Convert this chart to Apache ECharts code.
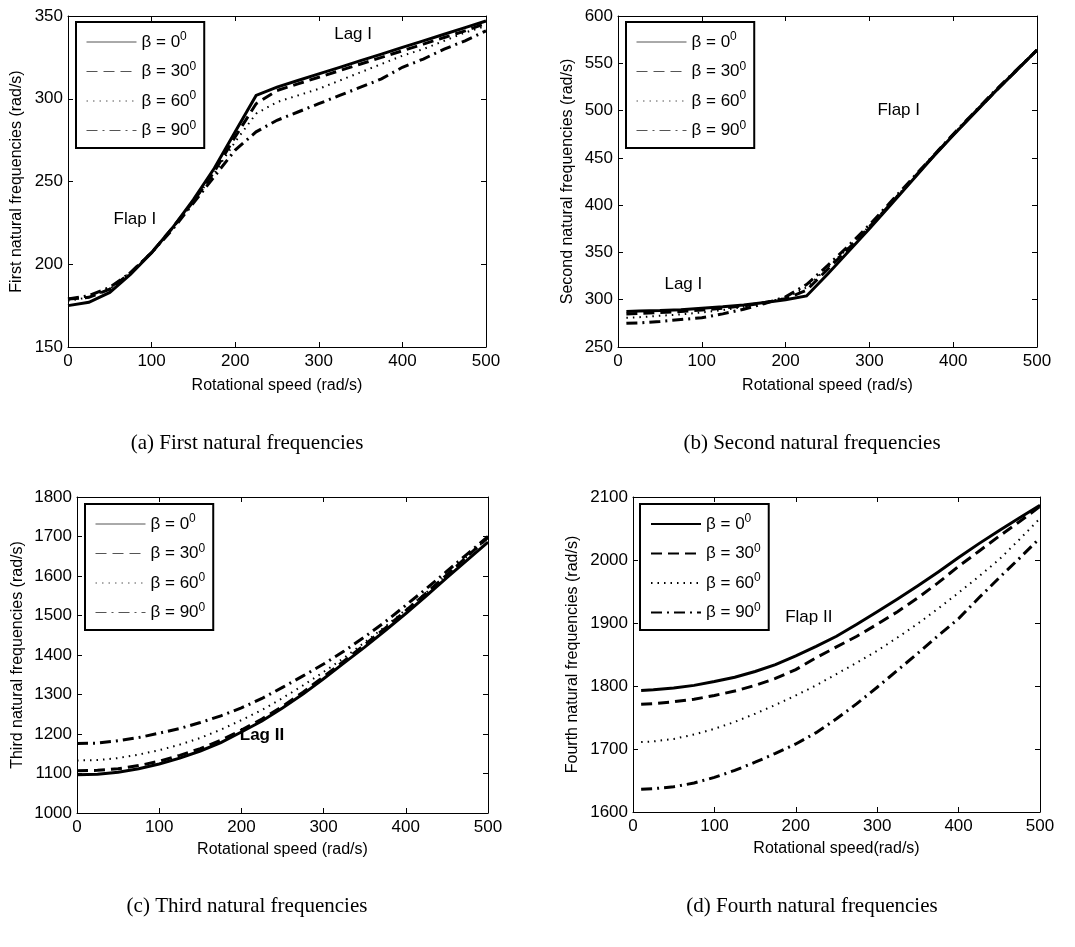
<!DOCTYPE html>
<html><head><meta charset="utf-8">
<script src="https://cdn.jsdelivr.net/npm/echarts@6/dist/echarts.min.js"></script>
<style>html,body{margin:0;padding:0;background:#fff}#c{width:1075px;height:947px}</style>
</head><body><div id="c"></div>
<script>
// ---------------- data ----------------
const speedA = [0,25,50,75,100,125,150,175,200,225,250,275,300,325,350,375,400,425,450,475,500];
const speedB = [10,25,50,75,100,125,150,175,200,225,250,275,300,325,350,375,400,425,450,475,500];

const first0  = [175,177,183,194,207,222,239,258,280,302,307,311,315,319,323,327,331,335,339,343,347];
const first30 = [179,180,185,195,207,222,238,256,277,297,305,309,313,317,321,325,329,333,337,341,345.5];
const first60 = [178,180,185,195,207,222,238,255,274,291,298,302,306,311,316,321,326,330,335,340,344];
const first90 = [179,181,186,195,207,221,237,253,269,280,287,292,297,302,307,312,319,324,330,335,341];

const second0  = [287.5,288,288.5,289.5,291,292.5,294.5,297,300,304,327,351,375,400,425,450,474,497,520,542,564];
const second30 = [285,285.5,286.5,287.5,289,291,293.5,297,301,310,332,354,377,401,426,450.5,474.5,497.5,520,542,564];
const second60 = [281,281.5,283,284.5,286.5,289,292.5,297,302,313,334,355,378,402,426,451,475,498,520.5,542,564];
const second90 = [275,275.5,277,279,281,285,290,296,303,316,336,357,379,403,427,451,475,498,521,542.5,564];

const third0  = [1097,1098,1103,1112,1124,1139,1157,1178,1205,1233,1266,1301,1340,1380,1420,1462,1505,1550,1596,1641,1686];
const third30 = [1107,1108,1112,1120,1131,1146,1163,1184,1210,1238,1270,1306,1345,1385,1426,1468,1512,1557,1603,1650,1698];
const third60 = [1133,1134,1139,1148,1159,1173,1190,1211,1235,1261,1291,1323,1357,1393,1432,1472,1515,1558,1603,1650,1696];
const third90 = [1176,1177,1183,1191,1202,1214,1229,1246,1266,1290,1318,1347,1377,1410,1446,1484,1526,1568,1612,1656,1700];

const fourth0  = [1793,1794,1797,1801,1807,1814,1823,1834,1848,1863,1879,1898,1918,1938,1959,1981,2004,2026,2047,2067,2087];
const fourth30 = [1771,1772,1775,1779,1785,1792,1801,1812,1826,1845,1862,1879,1898,1918,1940,1964,1990,2014,2038,2061,2085];
const fourth60 = [1711,1712,1716,1723,1732,1743,1756,1770,1785,1801,1819,1837,1856,1877,1899,1923,1948,1974,2001,2033,2066];
const fourth90 = [1636,1637,1640,1646,1655,1666,1679,1693,1708,1726,1748,1772,1798,1825,1852,1880,1907,1940,1972,2003,2035];

const angles = ['0','30','60','90'];
const xTicks = [0,100,200,300,400,500];
const yTicksA = [150,200,250,300,350];
const yTicksB = [250,300,350,400,450,500,550,600];
const yTicksC = [1000,1100,1200,1300,1400,1500,1600,1700,1800];
const yTicksD = [1600,1700,1800,1900,2000,2100];

const yNames = ['First natural frequencies (rad/s)','Second natural frequencies (rad/s)','Third natural frequencies (rad/s)','Fourth natural frequencies (rad/s)'];
const xNames = ['Rotational speed (rad/s)','Rotational speed (rad/s)','Rotational speed (rad/s)','Rotational speed(rad/s)'];
const captions = ['(a) First natural frequencies','(b) Second natural frequencies','(c) Third natural frequencies','(d) Fourth natural frequencies'];
const notes = [
  [{text:'Lag I', x:341, y:339, bold:false},{text:'Flap I', x:80, y:227, bold:false}],
  [{text:'Flap I', x:335, y:500, bold:false},{text:'Lag I', x:78, y:316, bold:false}],
  [{text:'Lag II', x:225, y:1197, bold:true}],
  [{text:'Flap II', x:216, y:1909, bold:false}]
];

// ---------------- layout / style ----------------
const SANS = 'Liberation Sans';
const panels = [
  {key:'a', xs:speedA, ys:[first0,first30,first60,first90], yt:yTicksA, grid:{left:68,top:16,width:418,height:331}, legend:{left:76,top:22}, nameGapY:43, nameGapX:31, thickLegend:false},
  {key:'b', xs:speedB, ys:[second0,second30,second60,second90], yt:yTicksB, grid:{left:618,top:16,width:419,height:331}, legend:{left:626,top:22}, nameGapY:42, nameGapX:31, thickLegend:false},
  {key:'c', xs:speedA, ys:[third0,third30,third60,third90], yt:yTicksC, grid:{left:77,top:497,width:411,height:316}, legend:{left:85,top:504}, nameGapY:51, nameGapX:29, thickLegend:false},
  {key:'d', xs:speedB, ys:[fourth0,fourth30,fourth60,fourth90], yt:yTicksD, grid:{left:633,top:497,width:407,height:315}, legend:{left:640,top:504}, nameGapY:52, nameGapX:29, thickLegend:true}
];
const capPos = [[247,443],[812,443],[247,906],[812,906]];
const lineStyles = [
  {width:3, type:'solid'},
  {width:3, type:[11,6]},
  {width:2, type:[1.5,5]},
  {width:3, type:[11,5,2,5]}
];

const grids=[], xAxes=[], yAxes=[], series=[], legends=[], graphics=[];
panels.forEach((p, gi) => {
  grids.push(Object.assign({containLabel:false, outerBoundsMode:'none', show:false}, p.grid));
  const axLine = {show:true, onZero:false, lineStyle:{color:'#000', width:1}};
  const tick = {show:true, inside:true, length:5, lineStyle:{color:'#000', width:1}};
  const lab = {color:'#000', fontSize:17, fontFamily:SANS, showMinLabel:true, showMaxLabel:true, hideOverlap:false, formatter: v => String(v)};
  xAxes.push({gridIndex:gi, type:'value', position:'bottom', min:xTicks[0], max:xTicks[xTicks.length-1], interval:xTicks[1]-xTicks[0],
    axisLine:axLine, axisTick:tick, axisLabel:Object.assign({margin:6}, lab), splitLine:{show:false},
    name:xNames[gi], nameLocation:'middle', nameGap:p.nameGapX, nameTextStyle:{color:'#000', fontSize:16, fontFamily:SANS}});
  xAxes.push({gridIndex:gi, type:'value', position:'top', min:xTicks[0], max:xTicks[xTicks.length-1], interval:xTicks[1]-xTicks[0],
    axisLine:axLine, axisTick:tick, axisLabel:{show:false}, splitLine:{show:false}});
  const yt = p.yt;
  yAxes.push({gridIndex:gi, type:'value', position:'left', min:yt[0], max:yt[yt.length-1], interval:yt[1]-yt[0],
    axisLine:axLine, axisTick:tick, axisLabel:Object.assign({margin:5}, lab), splitLine:{show:false},
    name:yNames[gi], nameLocation:'middle', nameGap:p.nameGapY, nameRotate:90, nameTextStyle:{color:'#000', fontSize:16, fontFamily:SANS}});
  yAxes.push({gridIndex:gi, type:'value', position:'right', min:yt[0], max:yt[yt.length-1], interval:yt[1]-yt[0],
    axisLine:axLine, axisTick:tick, axisLabel:{show:false}, splitLine:{show:false}});

  const names = angles.map(a => p.key + a);
  p.ys.forEach((vals, si) => {
    const s = {
      type:'line', name:names[si], xAxisIndex:gi*2, yAxisIndex:gi*2,
      data:p.xs.map((x,i)=>[x, vals[i]]),
      symbol:'none', showSymbol:false, smooth:false, animation:false, silent:true, clip:true,
      lineStyle:Object.assign({color:'#000', cap:'butt', join:'miter'}, lineStyles[si]),
      itemStyle:{color:'#000'}, z:10-si
    };
    if (si === 0) {
      s.markPoint = {
        symbol:'rect', symbolSize:1, itemStyle:{color:'rgba(0,0,0,0)'}, animation:false,
        data: notes[gi].map(n => ({name:n.text, coord:[n.x, n.y],
          label:{show:true, position:'inside', formatter:'{b}', color:'#000', fontSize:17, fontFamily:SANS, fontWeight:n.bold?'bold':'normal'}}))
      };
    }
    series.push(s);
  });

  legends.push({
    left:p.legend.left, top:p.legend.top, orient:'vertical', data:names, selectedMode:false,
    itemWidth:50, itemHeight:14, itemGap:10, padding:[9,8,9,10],
    borderColor:'#000', borderWidth:2, backgroundColor:'#fff',
    itemStyle:{color:'rgba(0,0,0,0)', borderColor:'rgba(0,0,0,0)', borderWidth:0, opacity:0},
    lineStyle: p.thickLegend ? {} : {width:1, color:'#555'},
    formatter: n => '{m|β = ' + n.slice(1) + '}{s|0}',
    textStyle:{color:'#000', rich:{
      m:{fontSize:17, fontFamily:SANS, color:'#000', lineHeight:22},
      s:{fontSize:12, fontFamily:SANS, color:'#000', lineHeight:12, verticalAlign:'top'}
    }}
  });

  graphics.push({type:'text', x:capPos[gi][0], y:capPos[gi][1], silent:true,
    style:{text:captions[gi], font:'21px "Liberation Serif"', fill:'#000', textAlign:'center', textVerticalAlign:'middle'}});
});

const chart = echarts.init(document.getElementById('c'), null, {renderer:'canvas'});
chart.setOption({
  animation:false, backgroundColor:'#fff',
  grid:grids, xAxis:xAxes, yAxis:yAxes, series:series, legend:legends, graphic:graphics
});
</script></body></html>
